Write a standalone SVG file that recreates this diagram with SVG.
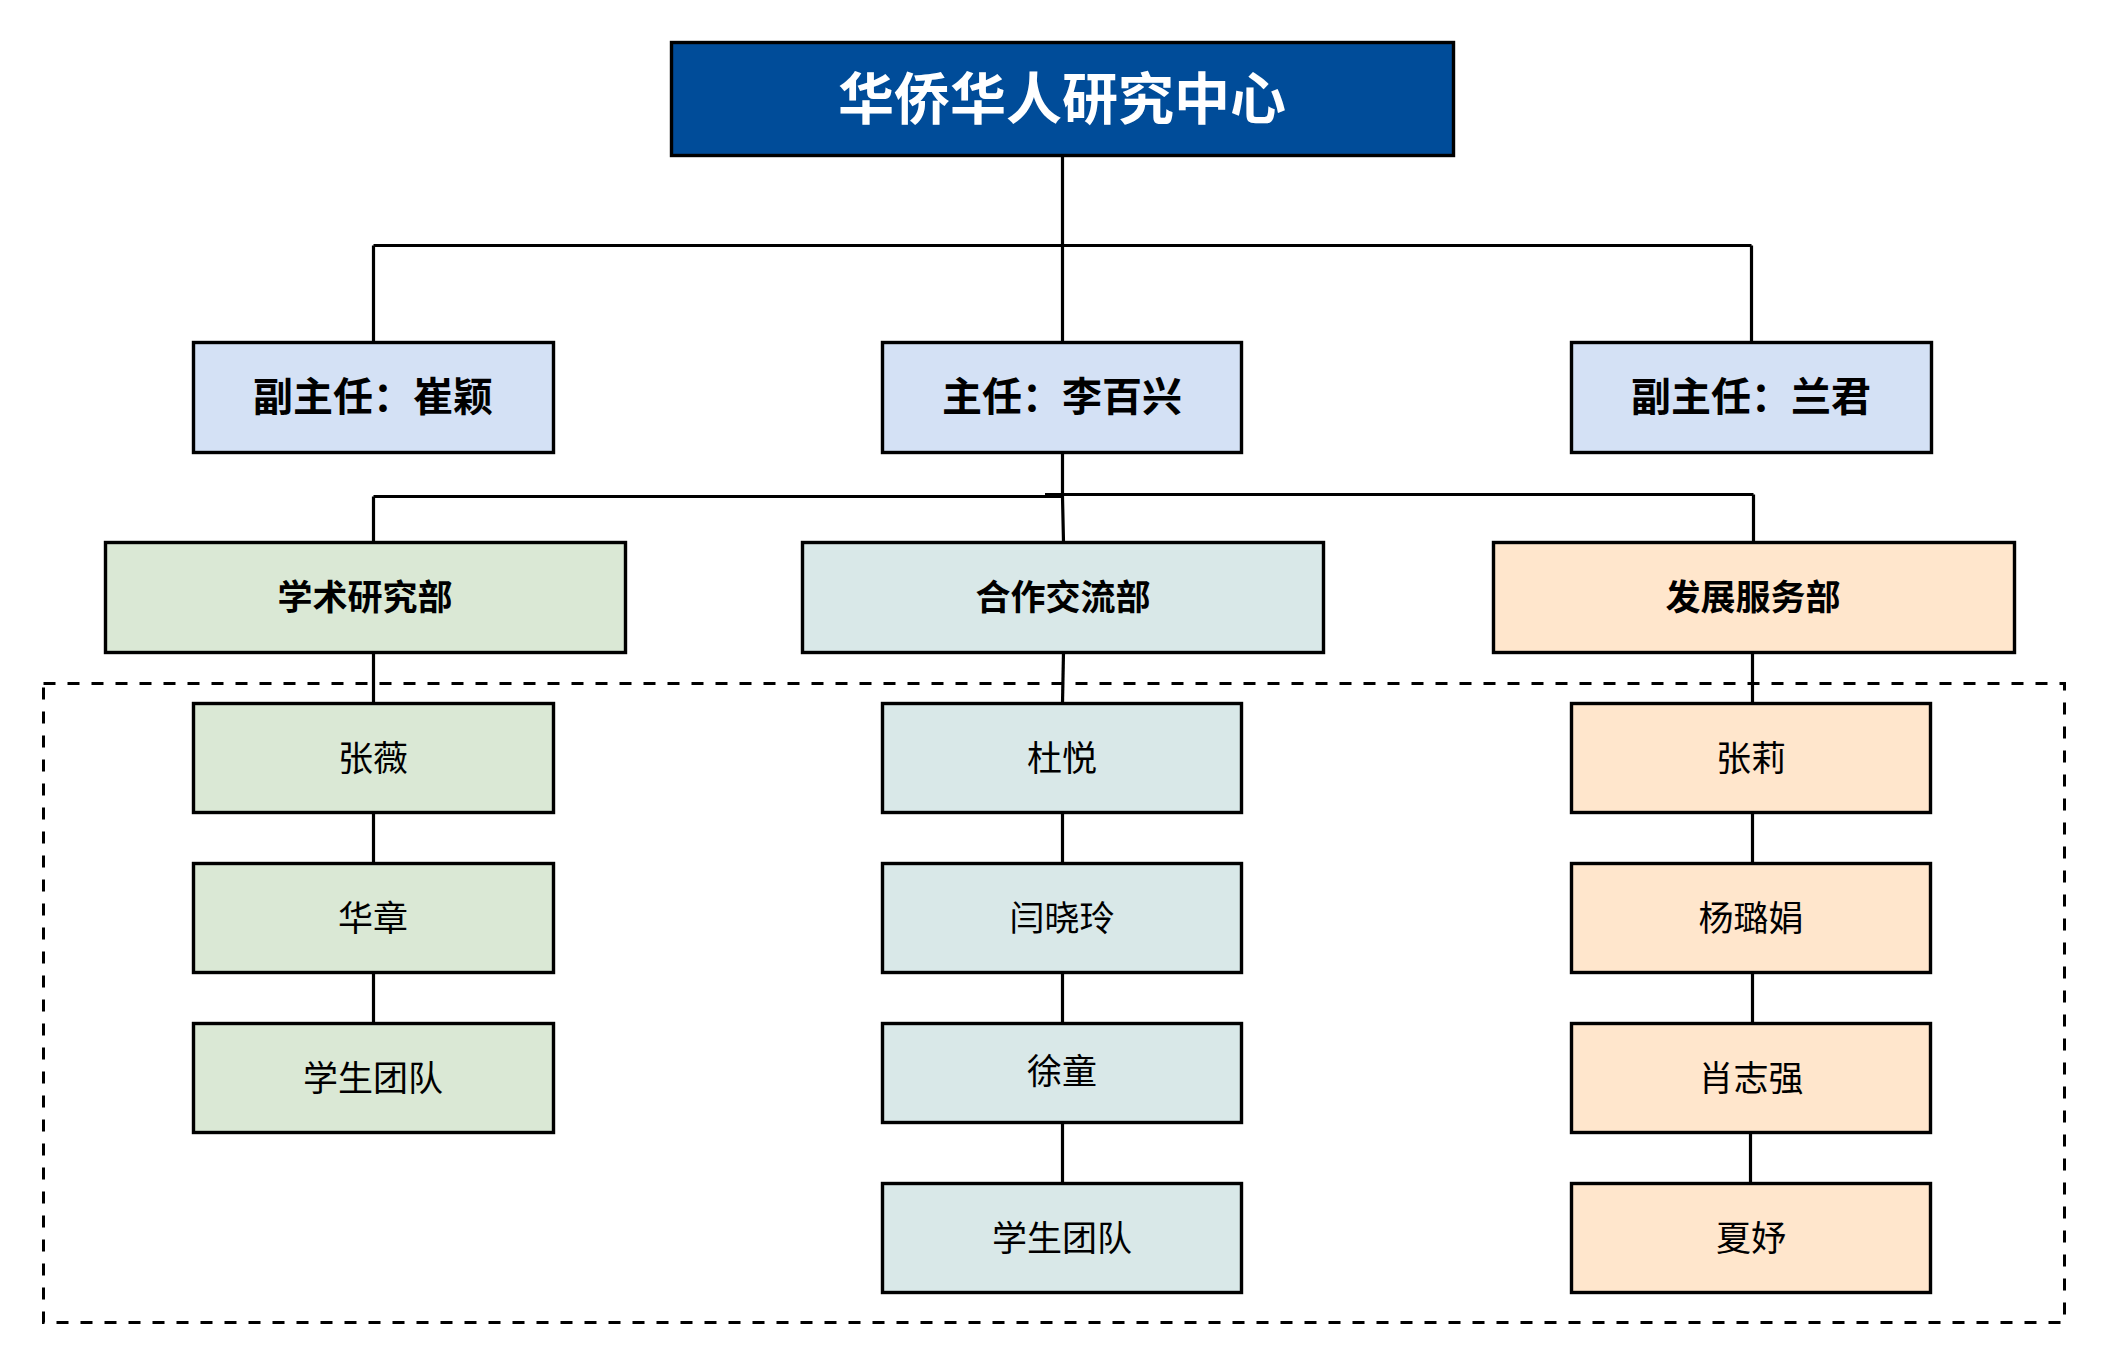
<svg xmlns="http://www.w3.org/2000/svg" width="2108" height="1364" viewBox="0 0 2108 1364">
<style>
  .box { stroke: #000; stroke-width: 3.4; }
  .title { fill: #004C99; }
  .lead { fill: #D4E1F5; }
  .g { fill: #DAE8D5; }
  .c { fill: #D9E8E8; }
  .o { fill: #FFE6CC; }
  text { font-family: "Noto Sans CJK SC", "Noto Sans", sans-serif; text-anchor: middle; dominant-baseline: central; fill: #000; }
  .t0 { font-size: 56px; font-weight: bold; fill: #fff; }
  .t1 { font-size: 40px; font-weight: bold; }
  .t2 { font-size: 35px; font-weight: bold; }
  .t3 { font-size: 35px; }
  .ln { stroke: #000; stroke-width: 3.2; fill: none; }
  .dash { stroke: #000; stroke-width: 3; fill: none; stroke-dasharray: 12 12; }
</style>
<rect width="2108" height="1364" fill="#fff"/>
<rect id="group-frame" class="dash" x="43.5" y="683.5" width="2021" height="639"/>
<g id="connectors">
  <path class="ln" d="M1062.5 156 V245.5"/>
  <path class="ln" d="M373.5 245.5 H1751.5"/>
  <path class="ln" d="M373.5 245.5 V342"/>
  <path class="ln" d="M1062.5 245.5 V342"/>
  <path class="ln" d="M1751.5 245.5 V342"/>
  <path class="ln" d="M1062.5 452 V497 L1063.5 542"/>
  <path class="ln" d="M373.5 496.5 H1062"/>
  <path class="ln" d="M1045 494.5 H1753.5"/>
  <path class="ln" d="M373.5 496.5 V542"/>
  <path class="ln" d="M1753.5 494.5 V542"/>
  <path class="ln" d="M373.5 652 V703"/>
  <path class="ln" d="M1063.5 652 L1062.5 703"/>
  <path class="ln" d="M1752.5 652 V703"/>
  <path class="ln" d="M373.5 813 V863"/>
  <path class="ln" d="M373.5 973 V1023"/>
  <path class="ln" d="M1062.5 813 V863"/>
  <path class="ln" d="M1062.5 973 V1023"/>
  <path class="ln" d="M1062.5 1123 V1183"/>
  <path class="ln" d="M1752.5 813 V863"/>
  <path class="ln" d="M1752.5 973 V1023"/>
  <path class="ln" d="M1750.5 1133 V1183"/>
</g>
<g id="center"><rect class="box title" x="671.5" y="42.5" width="782" height="113"/><text class="t0" x="1062" y="94">华侨华人研究中心</text></g>
<g id="deputy-left"><rect class="box lead" x="193.5" y="342.5" width="360" height="110"/><text class="t1" x="373" y="394">副主任：崔颖</text></g>
<g id="director"><rect class="box lead" x="882.5" y="342.5" width="359" height="110"/><text class="t1" x="1062" y="394">主任：李百兴</text></g>
<g id="deputy-right"><rect class="box lead" x="1571.5" y="342.5" width="360" height="110"/><text class="t1" x="1751" y="394">副主任：兰君</text></g>
<g id="dept-academic"><rect class="box g" x="105.5" y="542.5" width="520" height="110"/><text class="t2" x="365" y="594">学术研究部</text></g>
<g id="dept-exchange"><rect class="box c" x="802.5" y="542.5" width="521" height="110"/><text class="t2" x="1063" y="594">合作交流部</text></g>
<g id="dept-development"><rect class="box o" x="1493.5" y="542.5" width="521" height="110"/><text class="t2" x="1753" y="594">发展服务部</text></g>
<g id="m-zhangwei"><rect class="box g" x="193.5" y="703.5" width="360" height="109"/><text class="t3" x="373" y="755">张薇</text></g>
<g id="m-huazhang"><rect class="box g" x="193.5" y="863.5" width="360" height="109"/><text class="t3" x="373" y="915">华章</text></g>
<g id="m-team1"><rect class="box g" x="193.5" y="1023.5" width="360" height="109"/><text class="t3" x="373" y="1075">学生团队</text></g>
<g id="m-duyue"><rect class="box c" x="882.5" y="703.5" width="359" height="109"/><text class="t3" x="1062" y="755">杜悦</text></g>
<g id="m-yanxiaoling"><rect class="box c" x="882.5" y="863.5" width="359" height="109"/><text class="t3" x="1062" y="915">闫晓玲</text></g>
<g id="m-xutong"><rect class="box c" x="882.5" y="1023.5" width="359" height="99"/><text class="t3" x="1062" y="1068">徐童</text></g>
<g id="m-team2"><rect class="box c" x="882.5" y="1183.5" width="359" height="109"/><text class="t3" x="1062" y="1235">学生团队</text></g>
<g id="m-zhangli"><rect class="box o" x="1571.5" y="703.5" width="359" height="109"/><text class="t3" x="1751" y="755">张莉</text></g>
<g id="m-yanglujuan"><rect class="box o" x="1571.5" y="863.5" width="359" height="109"/><text class="t3" x="1751" y="915">杨璐娟</text></g>
<g id="m-xiaozhiqiang"><rect class="box o" x="1571.5" y="1023.5" width="359" height="109"/><text class="t3" x="1751" y="1075">肖志强</text></g>
<g id="m-xiayu"><rect class="box o" x="1571.5" y="1183.5" width="359" height="109"/><text class="t3" x="1751" y="1235">夏妤</text></g>
</svg>
